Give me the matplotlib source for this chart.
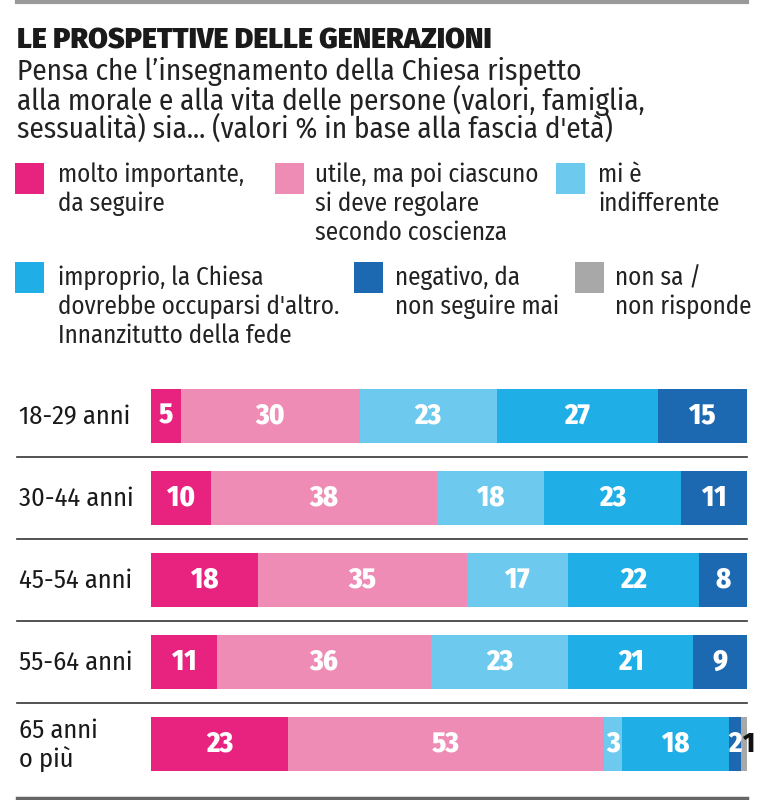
import numpy as np
import matplotlib.pyplot as plt
from matplotlib.lines import Line2D
from matplotlib.patches import Rectangle

# data
ages = ['18-29 anni', '30-44 anni', '45-54 anni', '55-64 anni', '65 anni\no più']
molto = [5, 10, 18, 11, 23]
utile = [30, 38, 35, 36, 53]
indiff = [23, 18, 17, 23, 3]
improprio = [27, 23, 22, 21, 18]
negativo = [15, 11, 8, 9, 2]
nonsa = [0, 0, 0, 0, 1]

series = [molto, utile, indiff, improprio, negativo, nonsa]
labels = ['molto importante,\nda seguire',
          'utile, ma poi ciascuno\nsi deve regolare\nsecondo coscienza',
          'mi è\nindifferente',
          'improprio, la Chiesa\ndovrebbe occuparsi d\'altro.\nInnanzitutto della fede',
          'negativo, da\nnon seguire mai',
          'non sa /\nnon risponde']
colors = ['#E8237F', '#EE8CB5', '#6DCAEE', '#1FAFE6', '#1D69B1', '#A8A8A8']

plt.rcParams['font.family'] = ['Fira Sans Condensed', 'DejaVu Sans']
plt.rcParams['font.stretch'] = 'condensed'

W, H = 764, 800
fig = plt.figure(figsize=(W / 100, H / 100), dpi=100)

def fx(px):
    return px / W

def fy(py):
    return 1 - py / H

# title block
fig.text(fx(17), fy(41), 'LE PROSPETTIVE DELLE GENERAZIONI', fontsize=20.5,
         fontweight='black', va='center', color='#1a1a1a',
         family=['Fira Sans', 'DejaVu Sans'], fontstretch='normal')
sub = ["Pensa che l\u2019insegnamento della Chiesa rispetto",
       "alla morale e alla vita delle persone (valori, famiglia,",
       "sessualità) sia... (valori % in base alla fascia d'età)"]
for i, s in enumerate(sub):
    fig.text(fx(17), fy(72 + 28.5 * i), s, fontsize=21, va='center', color='#222222')

# legend: (square x, square y, text x, first line y)
leg_pos = [(15, 163, 58, 175), (275, 163, 315, 175), (556, 163, 598, 175),
           (15, 262, 58, 278), (354, 262, 395, 278), (575, 262, 615, 278)]
for (sx, sy, tx, ty), lab, c in zip(leg_pos, labels, colors):
    fig.add_artist(Rectangle((fx(sx), fy(sy + 31)), 29 / W, 31 / H,
                             transform=fig.transFigure, color=c, lw=0))
    for j, line in enumerate(lab.split('\n')):
        fig.text(fx(tx), fy(ty + 29 * j), line, fontsize=18, va='center',
                 color='#222222')

# lines
fig.add_artist(Line2D([fx(17), fx(747)], [fy(2), fy(2)], color='#999999', lw=3))
for yy in [457, 539, 621, 703]:
    fig.add_artist(Line2D([fx(17), fx(747)], [fy(yy), fy(yy)], color='#333333', lw=1.2))
fig.add_artist(Line2D([fx(17), fx(747)], [fy(798), fy(798)], color='#666666', lw=2.5))

# bars
ax = fig.add_axes([fx(151), fy(785), (747 - 151) / W, 410 / H])
ax.set_xlim(0, 100)
ax.set_ylim(len(ages) - 0.5, -0.5)
ax.axis('off')
y = np.arange(len(ages))
left = np.zeros(len(ages))
for k, (vals, c) in enumerate(zip(series, colors)):
    vals = np.array(vals, dtype=float)
    ax.barh(y, vals, left=left, height=0.66, color=c, lw=0)
    for i in range(len(ages)):
        if vals[i] <= 0:
            continue
        if k == 5:
            ax.text(left[i] + vals[i] + 0.3, y[i], f'{int(vals[i])}', ha='center',
                    va='center', fontsize=20, fontweight='heavy', color='#111111')
        else:
            ax.text(left[i] + vals[i] / 2, y[i], f'{int(vals[i])}', ha='center',
                    va='center', fontsize=20.5, fontweight='heavy', color='white')
    left += vals

for i, a in enumerate(ages):
    fig.text(fx(19), fy(417 + 82 * i), a, fontsize=19, va='center',
             color='#1a1a1a', linespacing=1.15)

fig.savefig('out.png', dpi=100)
